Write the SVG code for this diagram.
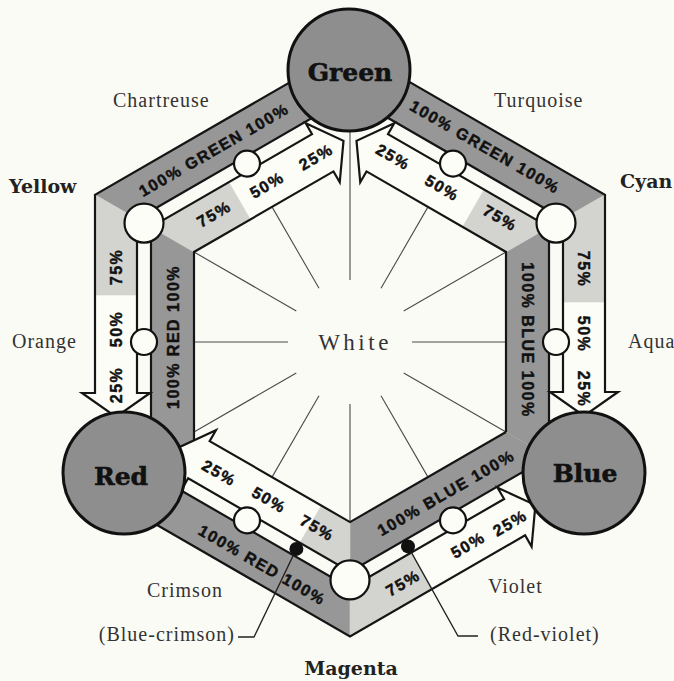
<svg xmlns="http://www.w3.org/2000/svg" width="674" height="681" viewBox="0 0 674 681">
<style>
.bg{fill:#fbfbf6}
.wf{fill:#fdfdf8;stroke:none}
.dk{fill:#979797;stroke:#979797;stroke-width:0.6}
.lt{fill:#d3d3cf;stroke:#d3d3cf;stroke-width:0.6}
.ol{fill:none;stroke:#151515;stroke-width:2.2;stroke-linejoin:miter}
.sp{stroke:#4a4a4a;stroke-width:1.1;fill:none}
.ld{stroke:#222;stroke-width:1.3;fill:none}
.pc{fill:#8e8e8e;stroke:#111;stroke-width:3}
.wc{fill:#fdfdf8;stroke:#111;stroke-width:2.2}
.dot{fill:#111}
.band{font-family:"Liberation Sans",Arial,sans-serif;font-weight:bold;font-size:16px;letter-spacing:1.5px;fill:#111;stroke:#111;stroke-width:0.45;text-anchor:middle;dominant-baseline:central}
.prim{font-family:"DejaVu Serif","Liberation Serif",serif;font-weight:bold;font-size:25px;fill:#111;stroke:#111;stroke-width:0.6;text-anchor:middle}
.sec{font-family:"DejaVu Serif","Liberation Serif",serif;font-weight:bold;font-size:19px;fill:#222}
.lab{font-family:"Liberation Serif","Times New Roman",serif;font-size:20px;letter-spacing:1px;fill:#333}
</style>
<rect class="bg" x="0" y="0" width="674" height="681"/>

<g id="spokes">
<line class="sp" x1="412" y1="342" x2="506" y2="342"/>
<line class="sp" x1="403.7" y1="373" x2="506" y2="432"/>
<line class="sp" x1="381" y1="395.7" x2="428" y2="477.1"/>
<line class="sp" x1="350" y1="404" x2="350" y2="522"/>
<line class="sp" x1="319" y1="395.7" x2="272" y2="477.1"/>
<line class="sp" x1="296.3" y1="373" x2="194" y2="432"/>
<line class="sp" x1="288" y1="342" x2="194" y2="342"/>
<line class="sp" x1="296.3" y1="311" x2="194" y2="252"/>
<line class="sp" x1="319" y1="288.3" x2="272" y2="206.9"/>
<line class="sp" x1="350" y1="280" x2="350" y2="128"/>
<line class="sp" x1="381" y1="288.3" x2="428" y2="206.9"/>
<line class="sp" x1="403.7" y1="311" x2="506" y2="252"/>
</g>

<g id="connectors">
<g id="arrow-green-red">
<polygon class="wf" points="350,47.6 95,194.8 95,393 82,393 116,417 150,393 137,393 137,219 350,96"/>
<polygon class="dk" points="350,47.6 95,194.8 137,219 350,96"/>
<polygon class="lt" points="95,194.8 95,295 137,295 137,219"/>
</g>
<g id="arrow-green-blue">
<polygon class="wf" points="350,47.6 605,194.8 605,392 618,392 584,416 550,392 563,392 563,219 350,96"/>
<polygon class="dk" points="350,47.6 605,194.8 563,219 350,96"/>
<polygon class="lt" points="605,194.8 605,302 563,302 563,219"/>
</g>
<g id="arrow-red-blue">
<polygon class="wf" points="95,489.2 350,636.4 525.1,535.3 531.6,546.6 535.4,505.1 497.6,487.7 504.1,499 350,588 137,465"/>
<polygon class="dk" points="95,489.2 350,636.4 350,588 137,465"/>
<polygon class="lt" points="350,636.4 432.5,588.8 411.5,552.5 350,588"/>
</g>
<g id="arrow-red-green">
<polygon class="wf" points="151,470 151,227.1 312,134.2 305.75,123.3 343.5,140.8 339.75,182.2 333.5,171.4 194,252 194,445"/>
<polygon class="dk" points="151,470 151,227.1 194,252 194,445"/>
<polygon class="lt" points="151,227.1 228.85,182.2 250.35,219.4 194,252"/>
</g>
<g id="arrow-blue-green">
<polygon class="wf" points="549,470 549,227.1 388,134.2 394.25,123.3 356.5,140.8 360.25,182.2 366.5,171.4 506,252 506,432 549,456.8"/>
<polygon class="dk" points="549,470 549,227.1 506,252 506,432 549,456.8"/>
<polygon class="lt" points="549,227.1 484.1,189.7 462.6,226.9 506,252"/>
</g>
<g id="arrow-blue-red">
<polygon class="wf" points="506,432 549,456.8 350,571.8 188.15,478.3 181.9,489.2 178.1,447.7 215.9,430.3 209.65,441.1 350,522.1"/>
<polygon class="dk" points="506,432 549,456.8 350,571.8 350,522.1"/>
<polygon class="lt" points="350,522.1 350,571.8 299.9,542.8 321.4,505.6"/>
</g>
<polyline class="ol" points="350,47.6 95,194.8 95,393 82,393 116,417 150,393 137,393 137,219 350,96"/>
<polyline class="ol" points="350,47.6 605,194.8 605,392 618,392 584,416 550,392 563,392 563,219 350,96"/>
<polyline class="ol" points="95,489.2 350,636.4 525.1,535.3 531.6,546.6 535.4,505.1 497.6,487.7 504.1,499 350,588 137,465"/>
<polyline class="ol" points="151,470 151,227.1 312,134.2 305.75,123.3 343.5,140.8 339.75,182.2 333.5,171.4 194,252 194,440.4"/>
<polyline class="ol" points="549,470 549,227.1 388,134.2 394.25,123.3 356.5,140.8 360.25,182.2 366.5,171.4 506,252 506,432"/>
<polyline class="ol" points="549,456.8 350,571.8 188.15,478.3 181.9,489.2 178.1,447.7 215.9,430.3 209.65,441.1 350,522.1 506,432"/>
<polyline class="ld" points="296.4,548.9 254,637 238,637"/>
<polyline class="ld" points="408,546.4 458,636 478,636"/>
</g>

<g id="band-labels">
<text class="band" transform="translate(214,150) rotate(-30)">100% GREEN 100%</text>
<text class="band" transform="translate(485,147) rotate(30)">100% GREEN 100%</text>
<text class="band" transform="translate(173,337) rotate(-90)">100% RED 100%</text>
<text class="band" transform="translate(527,340) rotate(90)">100% BLUE 100%</text>
<text class="band" transform="translate(262,565) rotate(30)">100% RED 100%</text>
<text class="band" transform="translate(446,493) rotate(-30)">100% BLUE 100%</text>
<text class="band" transform="translate(116,267) rotate(-90)">75%</text>
<text class="band" transform="translate(116,329) rotate(-90)">50%</text>
<text class="band" transform="translate(116,385) rotate(-90)">25%</text>
<text class="band" transform="translate(583,269) rotate(90)">75%</text>
<text class="band" transform="translate(583,334) rotate(90)">50%</text>
<text class="band" transform="translate(583,389) rotate(90)">25%</text>
<text class="band" transform="translate(214,214) rotate(-30)">75%</text>
<text class="band" transform="translate(267,185) rotate(-30)">50%</text>
<text class="band" transform="translate(316,157) rotate(-30)">25%</text>
<text class="band" transform="translate(500,218) rotate(30)">75%</text>
<text class="band" transform="translate(442,188) rotate(30)">50%</text>
<text class="band" transform="translate(393,157) rotate(30)">25%</text>
<text class="band" transform="translate(219,473) rotate(30)">25%</text>
<text class="band" transform="translate(269,500) rotate(30)">50%</text>
<text class="band" transform="translate(317,528) rotate(30)">75%</text>
<text class="band" transform="translate(403,583) rotate(-30)">75%</text>
<text class="band" transform="translate(468,545) rotate(-30)">50%</text>
<text class="band" transform="translate(510,523) rotate(-30)">25%</text>
</g>

<g id="mid-points">
<circle class="wc" cx="144" cy="342" r="13"/>
<circle class="wc" cx="556" cy="342" r="13"/>
<circle class="wc" cx="247" cy="163.6" r="13"/>
<circle class="wc" cx="453" cy="163.6" r="13"/>
<circle class="wc" cx="247" cy="520.4" r="13"/>
<circle class="wc" cx="453" cy="520.4" r="13"/>
</g>

<g id="yellow"><circle class="wc" cx="144" cy="223.1" r="19.5"/><text class="sec" x="9" y="193">Yellow</text></g>
<g id="cyan"><circle class="wc" cx="556" cy="223.1" r="19.5"/><text class="sec" x="620" y="188">Cyan</text></g>
<g id="magenta"><circle class="wc" cx="350" cy="579.9" r="19.5"/><text class="sec" x="351" y="675" text-anchor="middle">Magenta</text></g>

<g id="green"><circle class="pc" cx="349" cy="70" r="61"/><text class="prim" x="350" y="81">Green</text></g>
<g id="red"><circle class="pc" cx="124" cy="473" r="61"/><text class="prim" x="121" y="485">Red</text></g>
<g id="blue"><circle class="pc" cx="584" cy="473" r="61"/><text class="prim" x="585" y="482">Blue</text></g>

<g id="blue-crimson"><circle class="dot" cx="296.4" cy="548.9" r="7"/><text class="lab" x="235" y="641" text-anchor="end">(Blue-crimson)</text></g>
<g id="red-violet"><circle class="dot" cx="408" cy="546.4" r="7"/><text class="lab" x="490" y="641">(Red-violet)</text></g>

<g id="white"><text class="lab" x="355" y="350" text-anchor="middle" style="font-size:23px;letter-spacing:3.5px">White</text></g>
<g id="chartreuse"><text class="lab" x="113" y="107">Chartreuse</text></g>
<g id="turquoise"><text class="lab" x="494" y="107">Turquoise</text></g>
<g id="orange"><text class="lab" x="12" y="348">Orange</text></g>
<g id="aqua"><text class="lab" x="628" y="348">Aqua</text></g>
<g id="crimson"><text class="lab" x="147" y="597">Crimson</text></g>
<g id="violet"><text class="lab" x="488" y="593">Violet</text></g>
</svg>
